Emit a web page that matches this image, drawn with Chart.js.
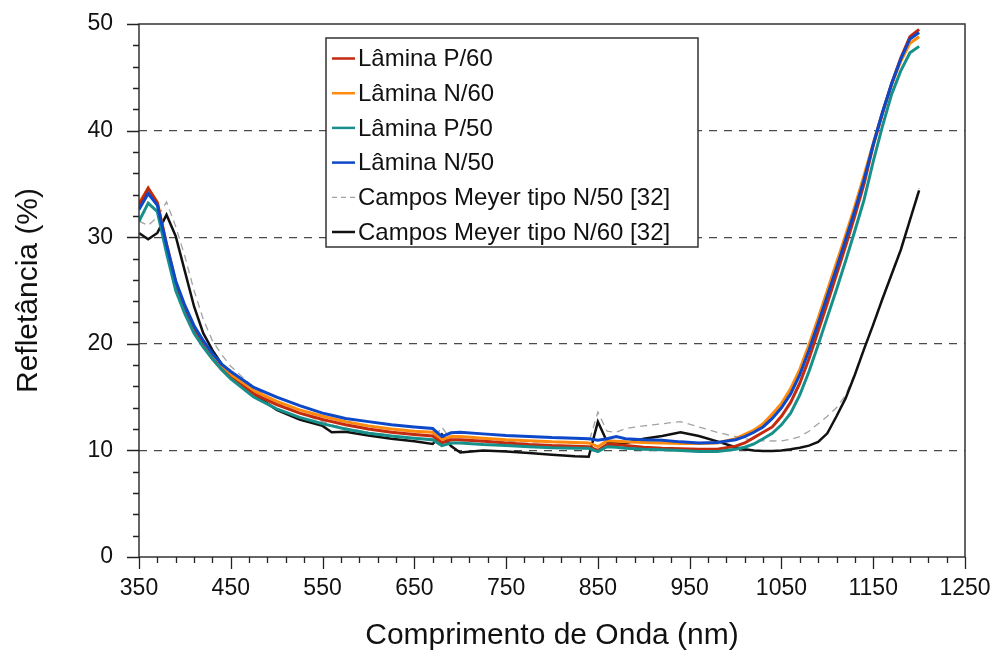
<!DOCTYPE html>
<html><head><meta charset="utf-8">
<script src="https://cdn.jsdelivr.net/npm/chart.js@4.4.1/dist/chart.umd.min.js"></script>
<style>html,body{margin:0;padding:0;background:#fff;}#wrap{width:994px;height:657px;position:relative;}</style>
</head><body><div id="wrap"><canvas id="c" width="994" height="657"></canvas></div>
<script>
// ---------- DATA ----------
const wavelengths = [350,360,370,380,390,400,410,420,430,440,450,475,500,525,550,560,575,600,625,650,670,680,690,700,725,750,775,800,825,840,850,860,870,880,900,920,940,960,980,1000,1010,1020,1030,1040,1050,1060,1070,1080,1090,1100,1110,1120,1130,1140,1150,1160,1170,1180,1190,1200];

const laminaP60 = [33.0,34.6,33.2,29.2,25.6,23.2,21.3,19.8,18.6,17.6,16.8,15.3,14.3,13.5,12.9,12.7,12.4,12.0,11.7,11.5,11.35,10.7,11.0,11.0,10.85,10.7,10.55,10.45,10.4,10.35,10.0,10.55,10.55,10.45,10.3,10.2,10.15,10.1,10.1,10.4,10.7,11.2,11.7,12.2,13.2,14.5,16.3,18.6,21.2,23.8,26.5,29.2,32.0,35.0,38.6,41.6,44.4,46.8,48.8,49.5];
const laminaN60 = [33.2,34.6,33.3,29.4,25.8,23.4,21.5,20.0,18.8,17.9,17.1,15.6,14.6,13.8,13.2,13.0,12.7,12.3,12.0,11.8,11.7,11.0,11.3,11.3,11.15,11.0,10.9,10.8,10.75,10.7,10.35,10.9,10.85,10.8,10.75,10.7,10.65,10.65,10.7,11.1,11.5,11.9,12.5,13.4,14.4,15.8,17.6,19.9,22.4,25.0,27.6,30.2,32.9,35.8,38.8,41.7,44.3,46.5,48.2,48.8];
const laminaP50 = [31.5,33.2,32.4,28.5,25.0,22.8,21.0,19.7,18.6,17.6,16.7,15.0,13.9,13.1,12.5,12.3,12.0,11.6,11.35,11.15,11.0,10.45,10.7,10.7,10.55,10.45,10.35,10.25,10.2,10.2,9.88,10.35,10.3,10.2,10.1,10.05,10.0,9.9,9.9,10.1,10.3,10.6,11.1,11.6,12.4,13.5,15.2,17.4,19.9,22.5,25.1,27.8,30.6,33.5,37.1,40.4,43.4,45.6,47.3,47.9];
const laminaN50 = [32.6,34.1,33.0,29.3,25.9,23.6,21.7,20.3,19.1,18.1,17.4,15.9,15.0,14.2,13.5,13.3,13.0,12.7,12.4,12.2,12.05,11.3,11.65,11.7,11.55,11.4,11.3,11.2,11.15,11.1,10.95,11.1,11.3,11.1,11.0,10.95,10.8,10.7,10.75,11.0,11.3,11.7,12.2,13.0,14.0,15.3,17.1,19.4,21.9,24.5,27.1,29.8,32.5,35.4,38.7,41.7,44.4,46.7,48.6,49.2];
const camposN50 = [31.5,31.1,31.9,33.3,31.0,28.2,25.0,22.3,20.3,19.0,17.9,15.9,14.5,13.5,12.7,12.4,12.1,11.7,11.4,11.1,10.9,12.2,11.0,10.9,10.9,10.85,10.8,10.75,10.7,10.7,13.6,11.8,11.7,12.05,12.3,12.5,12.7,12.2,11.7,11.3,11.1,11.0,10.9,10.88,10.9,11.04,11.3,11.8,12.5,13.2,14.0,15.2,17.2,19.6,21.9,24.3,26.6,28.9,31.7,34.6];
const camposN60 = [30.4,29.8,30.4,32.1,30.1,26.8,23.5,21.0,19.4,18.1,17.1,15.3,13.8,12.9,12.3,11.7,11.75,11.4,11.1,10.85,10.6,11.5,10.4,9.8,10.0,9.9,9.75,9.6,9.45,9.4,12.7,10.8,10.7,10.67,11.1,11.35,11.7,11.35,10.85,10.3,10.1,10.0,9.95,9.95,10.0,10.1,10.25,10.45,10.8,11.6,13.2,14.9,17.1,19.5,21.8,24.2,26.5,28.8,31.6,34.4];

const seriesLabels = ['Lâmina P/60','Lâmina N/60','Lâmina P/50','Lâmina N/50','Campos Meyer tipo N/50 [32]','Campos Meyer tipo N/60 [32]'];
const xTickValues = [350,450,550,650,750,850,950,1050,1150,1250];
const yTickValues = [0,10,20,30,40,50];
const xTitle = 'Comprimento de Onda (nm)';
const yTitle = 'Refletância (%)';

// ---------- STYLE ----------
const FONT = "'Liberation Sans', Arial, Helvetica, sans-serif";
const pts = arr => wavelengths.map((w,i)=>({x:w,y:arr[i]}));
const styles = [
  {color:'#c32a0e', width:3, dash:[]},
  {color:'#ff8a0c', width:3, dash:[]},
  {color:'#17908b', width:3, dash:[]},
  {color:'#0c48c8', width:3, dash:[]},
  {color:'#a3a3a3', width:1.3, dash:[7,5]},
  {color:'#111111', width:2.5, dash:[]}
];
const seriesData = [laminaP60, laminaN60, laminaP50, laminaN50, camposN50, camposN60];
const drawOrder = [2,3,1,0,5,4]; // smaller order drawn on top

const datasets = seriesData.map((arr,i)=>({
  label: seriesLabels[i],
  data: pts(arr),
  borderColor: styles[i].color,
  backgroundColor: styles[i].color,
  borderWidth: styles[i].width,
  borderDash: styles[i].dash,
  pointRadius: 0,
  tension: 0,
  fill: false,
  order: drawOrder[i]
}));

const noPad = s => { s.paddingLeft = 0; s.paddingRight = 0; s.paddingTop = 0; s.paddingBottom = 0; };

const framePlugin = {
  id:'frame',
  afterDraw(chart){
    const ctx = chart.ctx, a = chart.chartArea;
    const xs = chart.scales.x, ys = chart.scales.y;
    ctx.save();
    ctx.strokeStyle = '#333'; ctx.lineWidth = 1.5; ctx.setLineDash([]);
    ctx.strokeRect(a.left, a.top, a.right-a.left, a.bottom-a.top);
    ctx.strokeStyle = '#222'; ctx.lineWidth = 1.3;
    ctx.beginPath();
    for(let v=350; v<=1250; v+=20){
      const p = Math.round(xs.getPixelForValue(v))+0.5;
      const major = xTickValues.includes(v);
      ctx.moveTo(p, a.bottom); ctx.lineTo(p, a.bottom + (major?12:6));
    }
    for(let v=0; v<=50; v+=2){
      const p = Math.round(ys.getPixelForValue(v))+0.5;
      const major = yTickValues.includes(v);
      ctx.moveTo(a.left, p); ctx.lineTo(a.left - (major?12:6), p);
    }
    ctx.stroke();

    // legend
    const lx = a.left + 187, ly = a.top + 14, lw = 372, lh = 209;
    ctx.fillStyle = '#fff';
    ctx.fillRect(lx, ly, lw, lh);
    ctx.strokeStyle = '#333'; ctx.lineWidth = 1.5;
    ctx.strokeRect(lx, ly, lw, lh);
    ctx.font = '24px ' + FONT;
    ctx.textBaseline = 'middle';
    ctx.textAlign = 'left';
    seriesLabels.forEach((lab,i)=>{
      const y = ly + 20.5 + i*34.7;
      ctx.strokeStyle = styles[i].color;
      ctx.lineWidth = Math.min(styles[i].width, 2.5);
      ctx.setLineDash(i===4 ? [5,4] : []);
      ctx.beginPath(); ctx.moveTo(lx+6, y); ctx.lineTo(lx+29, y); ctx.stroke();
      ctx.setLineDash([]);
      ctx.fillStyle = '#111';
      ctx.fillText(lab, lx+32, y+1);
    });
    ctx.restore();
  }
};

new Chart(document.getElementById('c'), {
  type:'line',
  data:{ datasets },
  options:{
    responsive:false,
    animation:false,
    devicePixelRatio:1,
    layout:{ padding:{ top:24, right:29, left:0, bottom:0 } },
    plugins:{ legend:{display:false}, tooltip:{enabled:false} },
    scales:{
      x:{
        type:'linear', min:350, max:1250,
        afterBuildTicks: s => { s.ticks = xTickValues.map(v=>({value:v})); },
        afterFit: s => { s.height = 100; noPad(s); },
        grid:{ display:false, drawTicks:false },
        border:{ display:false },
        ticks:{ color:'#111', font:{family:FONT, size:23}, padding:18, maxRotation:0, autoSkip:false, callback: v => String(v) },
        title:{ display:true, text:xTitle, color:'#111', font:{family:FONT, size:30}, padding:{top:0, bottom:3} }
      },
      y:{
        type:'linear', min:0, max:50,
        afterBuildTicks: s => { s.ticks = yTickValues.map(v=>({value:v})); },
        afterFit: s => { s.width = 139; noPad(s); },
        grid:{ drawTicks:false, lineWidth:1.3,
          color: c => (c.tick && (c.tick.value===0 || c.tick.value===50)) ? 'rgba(0,0,0,0)' : '#4a4a4a' },
        border:{ display:false, dash:[8,7] },
        ticks:{ color:'#111', font:{family:FONT, size:23}, padding:26, callback: v => String(v) },
        title:{ display:true, text:yTitle, color:'#111', font:{family:FONT, size:30}, padding:{top:11, bottom:0} }
      }
    }
  },
  plugins:[framePlugin]
});
</script></body></html>
